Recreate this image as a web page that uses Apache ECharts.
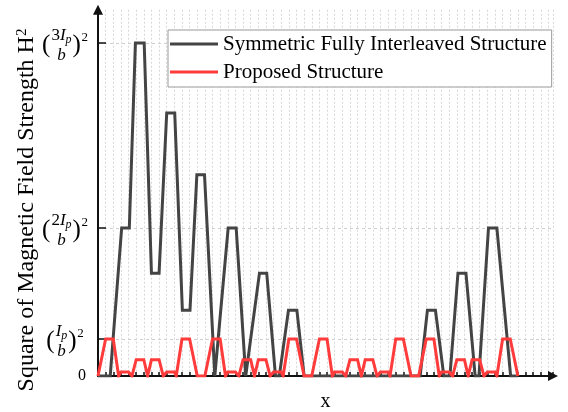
<!DOCTYPE html>
<html>
<head>
<meta charset="utf-8">
<script src="https://cdn.jsdelivr.net/npm/echarts@6/dist/echarts.min.js"></script>
<style>
  html, body { margin: 0; padding: 0; background: #fff; }
  #chart { width: 568px; height: 412px; }
</style>
</head>
<body>
<div id="chart"></div>
<script>
// H^2 along the winding window, in units of (Ip/b)^2; x in layer-slot units
const symmetricPoints = [
  [0, 0], [1.6, 0], [3.1, 4], [4.1, 4], [4.9, 9], [6.05, 9], [7.0, 2.78], [8.0, 2.78],
  [9.0, 7.11], [10.05, 7.11], [11.05, 1.78], [12.05, 1.78], [12.95, 5.44], [13.95, 5.44],
  [15.3, 0], [15.5, 0], [17.05, 4], [18.1, 4], [19.35, 0], [19.55, 0], [21.15, 2.78], [22.1, 2.78],
  [23.25, 0], [23.75, 0], [24.95, 1.78], [26.05, 1.78], [27.0, 0], [42.2, 0],
  [43.15, 1.78], [44.2, 1.78], [45.3, 0], [46.1, 0], [47.15, 2.78], [48.2, 2.78],
  [49.4, 0], [49.9, 0], [51.15, 4], [52.25, 4], [54.05, 0], [55, 0]
];
const proposedPoints = [
  [0, 0], [1, 1], [2, 1], [2.7, 0], [3, 0.11], [4, 0.11], [4.45, 0], [5, 0.44], [6, 0.44],
  [6.5, 0], [7, 0.44], [8, 0.44], [8.55, 0], [9, 0.11], [10, 0.11], [10.25, 0], [11, 1], [12, 1],
  [13, 0], [14, 0],
  [15, 1], [16, 1], [16.7, 0], [17, 0.11], [18, 0.11], [18.45, 0], [19, 0.44], [20, 0.44],
  [20.5, 0], [21, 0.44], [22, 0.44], [22.55, 0], [23, 0.11], [24, 0.11], [24.25, 0], [25, 1], [26, 1],
  [27, 0], [28, 0],
  [29, 1], [30, 1], [30.7, 0], [31, 0.11], [32, 0.11], [32.45, 0], [33, 0.44], [34, 0.44],
  [34.5, 0], [35, 0.44], [36, 0.44], [36.55, 0], [37, 0.11], [38, 0.11], [38.25, 0], [39, 1], [40, 1],
  [41, 0], [42, 0],
  [43, 1], [44, 1], [44.7, 0], [45, 0.11], [46, 0.11], [46.45, 0], [47, 0.44], [48, 0.44],
  [48.5, 0], [49, 0.44], [50, 0.44], [50.55, 0], [51, 0.11], [52, 0.11], [52.25, 0], [53, 1], [54, 1],
  [55, 0]
];
const seriesNames = ['Symmetric Fully Interleaved Structure', 'Proposed Structure'];
const yTickValues = [0, 1, 4, 9];
// fraction tick labels (k·Ip/b)^2 : value and the coefficient k shown in the numerator
const yFractionTicks = [1, 4, 9];
const yFractionCoefs = ['', '2', '3'];

const FONT = '"Liberation Serif", "Times New Roman", serif';
const chart = echarts.init(document.getElementById('chart'), null, { renderer: 'canvas' });

const option = {
  animation: false,
  backgroundColor: '#fff',
  textStyle: { fontFamily: FONT, color: '#000' },
  grid: { left: 98, right: 15, top: 9.7, bottom: 36, containLabel: false, outerBoundsMode: 'none' },
  legend: {
    orient: 'vertical',
    left: 168, top: 30,
    padding: [2, 5, 3, 2],
    itemGap: 4,
    itemWidth: 48, itemHeight: 3,
    icon: 'rect',
    borderColor: '#999', borderWidth: 1,
    backgroundColor: '#fff',
    textStyle: { fontFamily: FONT, fontSize: 21, color: '#000', lineHeight: 24, padding: [0, 0, 0, 0] },
    data: seriesNames
  },
  xAxis: {
    type: 'value', min: 0, max: 59.6, interval: 1,
    name: 'x', nameLocation: 'middle', nameGap: 16,
    nameTextStyle: { fontFamily: FONT, fontSize: 20, color: '#000' },
    axisLine: { show: true, onZero: false, lineStyle: { color: '#111', width: 2 },
                symbol: ['none', 'triangle'], symbolSize: [10, 10] },
    axisTick: { show: true, inside: true, length: 4, lineStyle: { color: '#111', width: 1.5 } },
    axisLabel: { show: false },
    splitLine: { show: true, lineStyle: { color: '#d8d8d8', width: 1, type: [2, 2] } }
  },
  yAxis: {
    type: 'value', min: 0, max: 9.9,
    axisLine: { show: true, onZero: false, lineStyle: { color: '#111', width: 2 },
                symbol: ['none', 'triangle'], symbolSize: [10, 10] },
    axisTick: { show: true, inside: true, length: 8, customValues: yTickValues,
                lineStyle: { color: '#111', width: 1.5 } },
    axisLabel: { show: true, customValues: [0], margin: 12,
                 fontFamily: FONT, fontSize: 16, color: '#000' },
    splitLine: { show: true, lineStyle: { color: '#cfcfcf', width: 1, type: [3, 3] } }
  },
  series: [
    {
      name: seriesNames[0], type: 'line', data: symmetricPoints,
      symbol: 'none', z: 3,
      lineStyle: { color: '#444', width: 3, join: 'miter' },
      itemStyle: { color: '#444' }
    },
    {
      name: seriesNames[1], type: 'line', data: proposedPoints,
      symbol: 'none', z: 4,
      lineStyle: { color: '#ff3b3b', width: 3, join: 'miter' },
      itemStyle: { color: '#ff3b3b' }
    }
  ]
};
chart.setOption(option);

// Width of a rich-text snippet, used to lay out the fraction labels
function textWidth(style) {
  const t = new echarts.graphic.Text({ style: style });
  return t.getBoundingRect().width;
}

const numRich = {
  n: { fontFamily: FONT, fontSize: 17 },
  i: { fontFamily: FONT, fontSize: 17, fontStyle: 'italic' },
  s: { fontFamily: FONT, fontSize: 12, fontStyle: 'italic', padding: [9, 0, 0, 0] }
};

const labelGraphics = yFractionTicks.map(function (v, idx) {
  const py = chart.convertToPixel({ yAxisIndex: 0 }, v);
  const numText = (yFractionCoefs[idx] ? '{n|' + yFractionCoefs[idx] + '}' : '') + '{i|I}{s|p}';
  const numW = textWidth({ text: numText, rich: numRich });
  const parenW = 8.3;
  const numLeft = parenW + 1;
  const closeLeft = numLeft + numW + 1;
  const supLeft = closeLeft + parenW + 0.5;
  const total = supLeft + 6.5;
  const cx0 = 65 - total / 2;
  const numCenter = numLeft + numW / 2;
  return {
    type: 'group', x: cx0, y: py, silent: true,
    children: [
      { type: 'text', x: 0, y: 2,
        style: { text: '(', fontFamily: FONT, fontSize: 25, fill: '#000', align: 'left', verticalAlign: 'middle' } },
      { type: 'text', x: numCenter, y: 3,
        style: { text: numText, rich: numRich, fill: '#000', align: 'center', verticalAlign: 'bottom' } },
      { type: 'text', x: numCenter, y: 4,
        style: { text: 'b', fontFamily: FONT, fontSize: 17, fontStyle: 'italic', fill: '#000', align: 'center', verticalAlign: 'top' } },
      { type: 'text', x: closeLeft, y: 2,
        style: { text: ')', fontFamily: FONT, fontSize: 25, fill: '#000', align: 'left', verticalAlign: 'middle' } },
      { type: 'text', x: supLeft, y: -5,
        style: { text: '2', fontFamily: FONT, fontSize: 13, fill: '#000', align: 'left', verticalAlign: 'middle' } }
    ]
  };
});

labelGraphics.push({
  type: 'text', x: 27, y: 210, rotation: Math.PI / 2, silent: true,
  style: {
    text: '{a|Square of Magnetic Field Strength H}{s|2}',
    align: 'center', verticalAlign: 'middle', fill: '#000',
    rich: {
      a: { fontFamily: FONT, fontSize: 24, verticalAlign: 'bottom' },
      s: { fontFamily: FONT, fontSize: 15, padding: [0, 0, 9, 0] }
    }
  }
});

chart.setOption({ graphic: labelGraphics });
</script>
</body>
</html>
